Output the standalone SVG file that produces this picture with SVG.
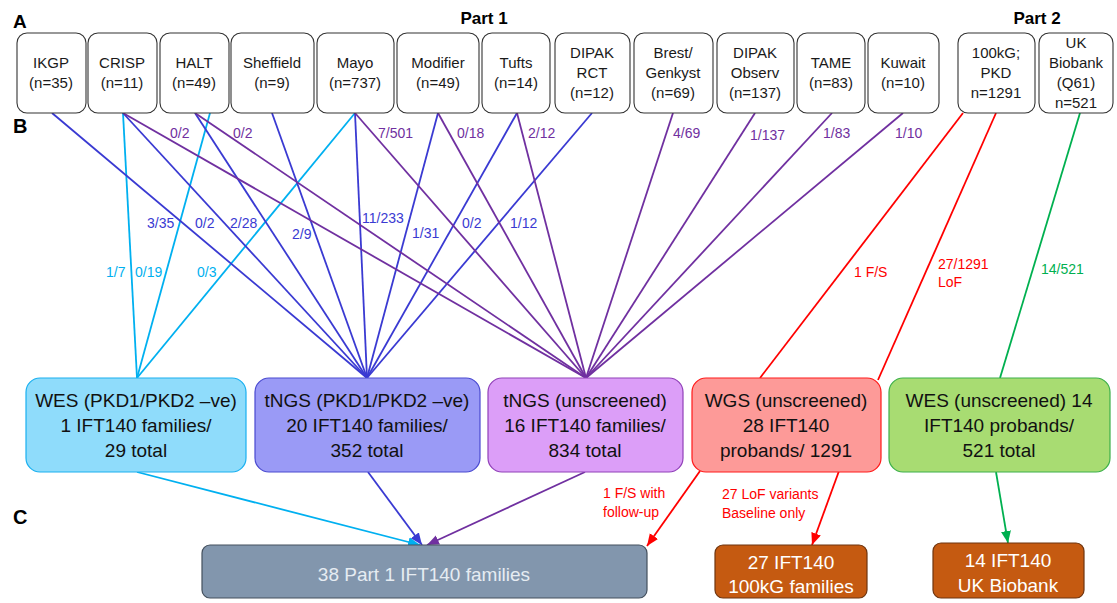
<svg xmlns="http://www.w3.org/2000/svg" width="1117" height="603" viewBox="0 0 1117 603">
<style>
text{font-family:"Liberation Sans",Arial,sans-serif}
.box{fill:#fff;stroke:#333;stroke-width:1.1}
.t{font-size:15px;fill:#1a1a1a;text-anchor:middle}
.m{font-size:19px;fill:#111;text-anchor:middle}
.w{font-size:19px;fill:#fff;text-anchor:middle}
.g{font-size:19px;fill:#e6ecf2;text-anchor:middle}
.hd{font-weight:bold;fill:#000}
.l{font-size:14px}
.ln{fill:none;stroke-width:1.8}
.clb{stroke:#00b0f0}.cbl{stroke:#3a3ad2}.cpu{stroke:#7030a0}.crd{stroke:#ff0000}.cgr{stroke:#00b050}
.flb{fill:#00b0f0}.fbl{fill:#3a3ad2}.fpu{fill:#7030a0}.frd{fill:#ff0000}.fgr{fill:#00b050}
</style>
<defs>
<marker id="alb" markerUnits="userSpaceOnUse" markerWidth="13" markerHeight="11" refX="12" refY="5" orient="auto"><path d="M0,0 L12,5 L0,10 z" fill="#00b0f0"/></marker>
<marker id="abl" markerUnits="userSpaceOnUse" markerWidth="13" markerHeight="11" refX="12" refY="5" orient="auto"><path d="M0,0 L12,5 L0,10 z" fill="#3a3ad2"/></marker>
<marker id="apu" markerUnits="userSpaceOnUse" markerWidth="13" markerHeight="11" refX="12" refY="5" orient="auto"><path d="M0,0 L12,5 L0,10 z" fill="#7030a0"/></marker>
<marker id="ard" markerUnits="userSpaceOnUse" markerWidth="13" markerHeight="11" refX="12" refY="5" orient="auto"><path d="M0,0 L12,5 L0,10 z" fill="#ff0000"/></marker>
<marker id="agr" markerUnits="userSpaceOnUse" markerWidth="13" markerHeight="11" refX="12" refY="5" orient="auto"><path d="M0,0 L12,5 L0,10 z" fill="#00b050"/></marker>
</defs>
<rect width="1117" height="603" fill="#fff"/>
<g id="panel-labels">
<text x="13" y="28" font-size="19" class="hd">A</text>
<text x="13" y="133" font-size="20" class="hd">B</text>
<text x="13" y="524" font-size="20" class="hd">C</text>
<text x="484" y="24" font-size="17" class="hd" text-anchor="middle">Part 1</text>
<text x="1037" y="24" font-size="17" class="hd" text-anchor="middle">Part 2</text>
</g>
<g id="connectors">
<g class="ln clb">
<line x1="123" y1="113" x2="137" y2="378"/>
<line x1="210" y1="113" x2="137" y2="378"/>
<line x1="355" y1="113" x2="137" y2="378"/>
</g>
<g class="ln cbl">
<line x1="52" y1="113" x2="367" y2="378"/>
<line x1="123" y1="113" x2="367" y2="378"/>
<line x1="195" y1="113" x2="367" y2="378"/>
<line x1="272" y1="113" x2="367" y2="378"/>
<line x1="355" y1="113" x2="367" y2="378"/>
<line x1="438" y1="113" x2="367" y2="378"/>
<line x1="517" y1="113" x2="367" y2="378"/>
<line x1="592" y1="113" x2="367" y2="378"/>
</g>
<g class="ln cpu">
<line x1="123" y1="113" x2="586" y2="378"/>
<line x1="195" y1="113" x2="586" y2="378"/>
<line x1="355" y1="113" x2="586" y2="378"/>
<line x1="438" y1="113" x2="586" y2="378"/>
<line x1="517" y1="113" x2="586" y2="378"/>
<line x1="673" y1="113" x2="586" y2="378"/>
<line x1="755" y1="113" x2="586" y2="378"/>
<line x1="832" y1="113" x2="586" y2="378"/>
<line x1="903" y1="113" x2="586" y2="378"/>
</g>
<g class="ln crd">
<line x1="963" y1="113" x2="760" y2="378"/>
<line x1="996" y1="113" x2="878" y2="380"/>
</g>
<line class="ln cgr" x1="1080" y1="113" x2="1000" y2="378"/>
<line class="ln clb" x1="137" y1="472" x2="420" y2="545" marker-end="url(#alb)"/>
<line class="ln cbl" x1="368" y1="472" x2="422" y2="545" marker-end="url(#abl)"/>
<line class="ln cpu" x1="585" y1="472" x2="427" y2="545" marker-end="url(#apu)"/>
<line class="ln crd" x1="700" y1="471" x2="647" y2="546" marker-end="url(#ard)"/>
<line class="ln crd" x1="839" y1="471" x2="812" y2="545" marker-end="url(#ard)"/>
<line class="ln cgr" x1="996" y1="472" x2="1008" y2="543" marker-end="url(#agr)"/>
<g class="l flb">
<text x="106" y="277">1/7</text>
<text x="135" y="277">0/19</text>
<text x="197" y="277">0/3</text>
</g>
<g class="l fbl">
<text x="147" y="228">3/35</text>
<text x="195" y="228">0/2</text>
<text x="230" y="228">2/28</text>
<text x="292" y="239">2/9</text>
<text x="362" y="223">11/233</text>
<text x="412" y="238">1/31</text>
<text x="462" y="228">0/2</text>
<text x="510" y="228">1/12</text>
</g>
<g class="l fpu">
<text x="170" y="138">0/2</text>
<text x="233" y="138">0/2</text>
<text x="378" y="138">7/501</text>
<text x="457" y="138">0/18</text>
<text x="528" y="138">2/12</text>
<text x="673" y="138">4/69</text>
<text x="750" y="140">1/137</text>
<text x="823" y="138">1/83</text>
<text x="895" y="138">1/10</text>
</g>
<g class="l frd">
<text x="854" y="277">1 F/S</text>
<text x="938" y="269">27/1291</text>
<text x="938" y="287">LoF</text>
<text x="603" y="498">1 F/S with</text>
<text x="603" y="517">follow-up</text>
<text x="722" y="499">27 LoF variants</text>
<text x="722" y="518">Baseline only</text>
</g>
<text class="l fgr" x="1041" y="274">14/521</text>
</g>
<g id="n-ikgp"><rect class="box" x="17" y="33" width="69" height="80" rx="10"/><text class="t" x="51" y="68">IKGP</text><text class="t" x="51" y="88">(n=35)</text></g>
<g id="n-crisp"><rect class="box" x="88" y="33" width="69" height="80" rx="10"/><text class="t" x="122" y="68">CRISP</text><text class="t" x="122" y="88">(n=11)</text></g>
<g id="n-halt"><rect class="box" x="160" y="33" width="69" height="80" rx="10"/><text class="t" x="194" y="68">HALT</text><text class="t" x="194" y="88">(n=49)</text></g>
<g id="n-sheffield"><rect class="box" x="231" y="33" width="83" height="80" rx="10"/><text class="t" x="272" y="68">Sheffield</text><text class="t" x="272" y="88">(n=9)</text></g>
<g id="n-mayo"><rect class="box" x="317" y="33" width="77" height="80" rx="10"/><text class="t" x="355" y="68">Mayo</text><text class="t" x="355" y="88">(n=737)</text></g>
<g id="n-modifier"><rect class="box" x="397" y="33" width="82" height="80" rx="10"/><text class="t" x="438" y="68">Modifier</text><text class="t" x="438" y="88">(n=49)</text></g>
<g id="n-tufts"><rect class="box" x="482" y="33" width="68" height="80" rx="10"/><text class="t" x="516" y="68">Tufts</text><text class="t" x="516" y="88">(n=14)</text></g>
<g id="n-dipak-rct"><rect class="box" x="555" y="33" width="75" height="80" rx="10"/><text class="t" x="592" y="58">DIPAK</text><text class="t" x="592" y="78">RCT</text><text class="t" x="592" y="98">(n=12)</text></g>
<g id="n-brest"><rect class="box" x="634" y="33" width="79" height="80" rx="10"/><text class="t" x="673" y="58">Brest/</text><text class="t" x="673" y="78">Genkyst</text><text class="t" x="673" y="98">(n=69)</text></g>
<g id="n-dipak-obs"><rect class="box" x="717" y="33" width="77" height="80" rx="10"/><text class="t" x="755" y="58">DIPAK</text><text class="t" x="755" y="78">Observ</text><text class="t" x="755" y="98">(n=137)</text></g>
<g id="n-tame"><rect class="box" x="797" y="33" width="68" height="80" rx="10"/><text class="t" x="831" y="68">TAME</text><text class="t" x="831" y="88">(n=83)</text></g>
<g id="n-kuwait"><rect class="box" x="868" y="33" width="71" height="80" rx="10"/><text class="t" x="903" y="68">Kuwait</text><text class="t" x="903" y="88">(n=10)</text></g>
<g id="n-100kg"><rect class="box" x="958" y="33" width="77" height="80" rx="10"/><text class="t" x="996" y="58">100kG;</text><text class="t" x="996" y="78">PKD</text><text class="t" x="996" y="98">n=1291</text></g>
<g id="n-ukbb"><rect class="box" x="1039" y="33" width="74" height="80" rx="10"/><text class="t" x="1076" y="48">UK</text><text class="t" x="1076" y="68">Biobank</text><text class="t" x="1076" y="88">(Q61)</text><text class="t" x="1076" y="108">n=521</text></g>
<g id="n-wes-neg"><rect x="26" y="378" width="220" height="94" rx="14" fill="#8fdcfb" stroke="#1ab0f0" stroke-width="1.2"/><text class="m" x="136" y="407">WES (PKD1/PKD2 –ve)</text><text class="m" x="136" y="432">1 IFT140 families/</text><text class="m" x="136" y="457">29 total</text></g>
<g id="n-tngs-neg"><rect x="255" y="378" width="225" height="94" rx="14" fill="#9a9af6" stroke="#4a4ad0" stroke-width="1.2"/><text class="m" x="367" y="407">tNGS (PKD1/PKD2 –ve)</text><text class="m" x="367" y="432">20 IFT140 families/</text><text class="m" x="367" y="457">352 total</text></g>
<g id="n-tngs-un"><rect x="488" y="378" width="195" height="94" rx="14" fill="#dc9ef8" stroke="#9040b8" stroke-width="1.2"/><text class="m" x="585" y="407">tNGS (unscreened)</text><text class="m" x="585" y="432">16 IFT140 families/</text><text class="m" x="585" y="457">834 total</text></g>
<g id="n-wgs"><rect x="692" y="378" width="189" height="94" rx="14" fill="#fd9a98" stroke="#ff1a1a" stroke-width="1.2"/><text class="m" x="786" y="407">WGS (unscreened)</text><text class="m" x="786" y="432">28 IFT140</text><text class="m" x="786" y="457">probands/ 1291</text></g>
<g id="n-wes-un"><rect x="889" y="378" width="221" height="94" rx="14" fill="#a8dc72" stroke="#3cb04a" stroke-width="1.2"/><text class="m" x="999" y="407">WES (unscreened) 14</text><text class="m" x="999" y="432">IFT140 probands/</text><text class="m" x="999" y="457">521 total</text></g>
<g id="n-part1"><rect x="202" y="545" width="445" height="53" rx="8" fill="#8296ad" stroke="#44505e" stroke-width="1.2"/><text class="g" x="424" y="581">38 Part 1 IFT140 families</text></g>
<g id="n-100kg-fam"><rect x="715" y="545" width="152" height="53" rx="8" fill="#c55a11" stroke="#6e3510" stroke-width="1.2"/><text class="w" x="791" y="569">27 IFT140</text><text class="w" x="791" y="593">100kG families</text></g>
<g id="n-ukbb-fam"><rect x="933" y="543" width="151" height="55" rx="8" fill="#c55a11" stroke="#6e3510" stroke-width="1.2"/><text class="w" x="1008" y="567">14 IFT140</text><text class="w" x="1008" y="592">UK Biobank</text></g>
</svg>
